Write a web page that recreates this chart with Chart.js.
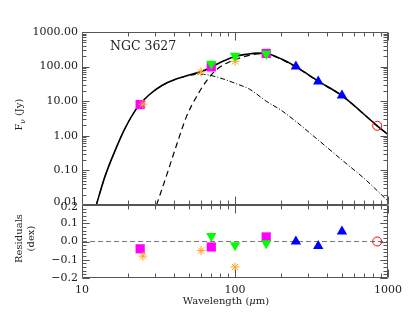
<!DOCTYPE html>
<html>
<head>
<meta charset="utf-8">
<script src="https://cdn.jsdelivr.net/npm/chart.js@4.4.1/dist/chart.umd.min.js"></script>
<style>
html, body { margin: 0; padding: 0; background: #fff; }
canvas { display: block; }
</style>
</head>
<body>
<canvas id="sed" width="409" height="316"></canvas>
<script>
// 模型曲线：总和（实线）
const totalWave = [12.4, 14.1, 16.4, 19.1, 22.9, 27.4, 33.3, 41.2, 50.8, 60.9, 70.7, 84.6, 100, 120, 140, 160, 200, 250, 350, 500, 850, 1000];
const totalFlux = [0.01, 0.065, 0.36, 1.63, 6.4, 15.1, 28.4, 43.8, 58, 73, 100, 147, 196, 228, 245, 240, 168, 100, 38, 14.5, 1.95, 1.1];

// 冷尘成分（虚线）
const coldWave = [30.7, 35.8, 41.5, 48.3, 56.3, 65.5, 76, 93, 120, 140, 160, 200, 250, 350, 500, 850, 1000];
const coldFlux = [0.01, 0.074, 0.54, 3.7, 14, 40, 83, 140, 204, 231, 230, 162, 97, 37.3, 14.3, 1.93, 1.09];

// 暖尘成分（点划线）
const warmWave = [12.4, 14.1, 16.4, 19.1, 22.9, 27.4, 33.3, 41.2, 50.8, 60.9, 70, 80, 100, 125, 160, 200, 250, 320, 400, 500, 700, 1000];
const warmFlux = [0.01, 0.065, 0.36, 1.63, 6.4, 15.1, 28.4, 43, 56, 60, 55, 47, 33, 22, 10, 5.5, 2.6, 1.05, 0.46, 0.2, 0.058, 0.013];

// 观测点：流量与残差
const mipsWave = [24, 70, 160];
const mipsFlux = [8.0, 98, 240];
const mipsResid = [-0.04, -0.03, 0.025];

const pacsWave = [70, 100, 160];
const pacsFlux = [120, 205, 235];
const pacsResid = [0.03, -0.02, -0.01];

const irasWave = [25, 60, 100];
const irasFlux = [8.2, 70, 142];
const irasResid = [-0.08, -0.05, -0.14];

const spireWave = [250, 350, 500];
const spireFlux = [100, 37, 14.5];
const spireResid = [0.0, -0.025, 0.055];

const scubaWave = [850];
const scubaFlux = [1.95];
const scubaResid = [0.0];

// 坐标轴刻度
const xTickLabels = [10, 100, 1000];
const xMinorTicks = [20, 30, 40, 50, 60, 70, 80, 90, 200, 300, 400, 500, 600, 700, 800, 900];
const fluxTickLabels = [0.01, 0.1, 1, 10, 100, 1000];
const residTickLabels = [-0.2, -0.1, 0.0, 0.1, 0.2];

// 文字
const galaxyName = 'NGC 3627';
const fluxTitle = ['F', '\u03bd', ' (Jy)'];
const residTitle = ['Residuals', '(dex)'];
const xTitle = ['Wavelength (', '\u03bc', 'm)'];

const textColor = '#222';
const axisColor = '#555';
const serif = '"DejaVu Serif", serif';

function pts(xs, ys) {
    return xs.map((x, i) => ({ x: x, y: ys[i] }));
}

// 对数副刻度
const fluxMinorTicks = [];
fluxTickLabels.slice(0, -1).forEach(d => {
    for (let k = 2; k <= 9; k++) fluxMinorTicks.push(k * d);
});
const residMinorTicks = [];
for (let i = -10; i <= 10; i++) residMinorTicks.push(i * 0.02);

function curve(xs, ys, dash, width, order) {
    return {
        data: pts(xs, ys), yAxisID: 'y', showLine: true, pointRadius: 0,
        borderColor: '#000', borderWidth: width, borderDash: dash,
        cubicInterpolationMode: 'monotone', fill: false, order: order
    };
}

function markers(xs, ys, axis, style, order) {
    return Object.assign({ data: pts(xs, ys), yAxisID: axis, showLine: false, order: order }, style);
}

const mipsStyle = { pointStyle: 'rect', pointRadius: 6.5, backgroundColor: '#ff00ff', borderColor: '#ff00ff', pointBorderWidth: 0 };
const pacsStyle = { pointStyle: 'triangle', pointRotation: 180, pointRadius: 6, backgroundColor: '#00ff00', borderColor: '#00ff00', pointBorderWidth: 0 };
const irasStyle = { pointStyle: 'star', pointRadius: 4.5, backgroundColor: '#ffa020', borderColor: '#ffa020', pointBorderWidth: 1 };
const spireStyle = { pointStyle: 'triangle', pointRadius: 6, backgroundColor: '#0000ff', borderColor: '#0000ff', pointBorderWidth: 0 };
const scubaStyle = { pointStyle: 'circle', pointRadius: 4.5, backgroundColor: 'rgba(0,0,0,0)', borderColor: '#ff0000', pointBorderWidth: 1 };

// 边框与朝内刻度
const frameTicks = {
    id: 'frameTicks',
    afterDatasetsDraw(chart) {
        const ctx = chart.ctx;
        const xs = chart.scales.x;
        const panels = [
            { s: chart.scales.y, major: fluxTickLabels, minor: fluxMinorTicks },
            { s: chart.scales.yr, major: residTickLabels, minor: residMinorTicks }
        ];
        const left = Math.round(xs.left) + 0.5;
        const right = Math.round(xs.right) - 0.5;
        ctx.save();
        ctx.strokeStyle = axisColor;
        ctx.lineWidth = 1;
        ctx.beginPath();
        panels.forEach(p => {
            const top = Math.round(p.s.top) + 0.5;
            const bot = Math.round(p.s.bottom) - 0.5;
            ctx.rect(left, top, right - left, bot - top);
            xTickLabels.concat(xMinorTicks).forEach(v => {
                const len = xTickLabels.includes(v) ? 8 : 4;
                const px = Math.round(xs.getPixelForValue(v)) + 0.5;
                ctx.moveTo(px, top); ctx.lineTo(px, top + len);
                ctx.moveTo(px, bot); ctx.lineTo(px, bot - len);
            });
            p.major.concat(p.minor).forEach(v => {
                const len = p.major.includes(v) ? 7 : 4;
                const py = Math.round(p.s.getPixelForValue(v)) + 0.5;
                ctx.moveTo(left, py); ctx.lineTo(left + len, py);
                ctx.moveTo(right, py); ctx.lineTo(right - len, py);
            });
        });
        ctx.stroke();
        ctx.restore();
    }
};

// 坐标轴标题与星系名
const axisTitles = {
    id: 'axisTitles',
    afterDraw(chart) {
        const ctx = chart.ctx;
        const ym = chart.scales.y, yr = chart.scales.yr, xs = chart.scales.x;
        const big = '10px ' + serif, small = '7px ' + serif;
        ctx.save();
        ctx.fillStyle = textColor;
        ctx.textBaseline = 'alphabetic';

        ctx.font = '12.5px ' + serif;
        ctx.fillText(galaxyName, xs.left + 28, ym.top + 18);

        // F_nu (Jy)
        ctx.save();
        ctx.translate(18, (ym.top + ym.bottom) / 2 - 4);
        ctx.rotate(-Math.PI / 2);
        ctx.font = big;
        const wF = ctx.measureText(fluxTitle[0]).width;
        const wJy = ctx.measureText(fluxTitle[2]).width;
        ctx.font = small;
        const wNu = ctx.measureText(fluxTitle[1]).width;
        let x = -(wF + wNu + wJy) / 2;
        ctx.font = big;
        ctx.fillText(fluxTitle[0], x, 3.5);
        ctx.font = small;
        ctx.fillText(fluxTitle[1], x + wF, 6.5);
        ctx.font = big;
        ctx.fillText(fluxTitle[2], x + wF + wNu, 3.5);
        ctx.restore();

        // Residuals (dex)
        ctx.save();
        ctx.translate(0, (yr.top + yr.bottom) / 2 - 3);
        ctx.rotate(-Math.PI / 2);
        ctx.font = big;
        ctx.textAlign = 'center';
        ctx.fillText(residTitle[0], 0, 21.5);
        ctx.fillText(residTitle[1], 0, 33.5);
        ctx.restore();

        // Wavelength (um)
        ctx.font = big;
        const w0 = ctx.measureText(xTitle[0]).width;
        const w2 = ctx.measureText(xTitle[2]).width;
        ctx.font = 'italic ' + big;
        const w1 = ctx.measureText(xTitle[1]).width;
        let tx = (xs.left + xs.right) / 2 - 9 - (w0 + w1 + w2) / 2;
        const ty = 304;
        ctx.font = big;
        ctx.fillText(xTitle[0], tx, ty);
        ctx.font = 'italic ' + big;
        ctx.fillText(xTitle[1], tx + w0, ty);
        ctx.font = big;
        ctx.fillText(xTitle[2], tx + w0 + w1, ty);
        ctx.restore();
    }
};

const tickFont = { family: serif, size: 11 };

// 两个面板交界处的标签稍微错开
function fluxLabel(v) {
    return v === fluxTickLabels[0] ? [v.toFixed(2), ''] : v.toFixed(2);
}
function residLabel(v) {
    const s = v.toFixed(1).replace('-', '\u2212');
    return v === residTickLabels[residTickLabels.length - 1] ? ['', s] : s;
}
function edgeFont(edgeValue, lh) {
    return ctx => ({ family: serif, size: 11, lineHeight: ctx.tick && ctx.tick.value === edgeValue ? lh : 1.2 });
}

new Chart(document.getElementById('sed'), {
    type: 'scatter',
    data: {
        datasets: [
            curve(totalWave, totalFlux, [], 1.6, 20),
            curve(coldWave, coldFlux, [6, 4], 1.2, 21),
            curve(warmWave, warmFlux, [5, 2, 1, 2], 1, 22),
            {
                data: pts([10, 1000], [0, 0]), yAxisID: 'yr', showLine: true, pointRadius: 0,
                borderColor: '#777', borderWidth: 1, borderDash: [5, 3], order: 23
            },
            markers(mipsWave, mipsFlux, 'y', mipsStyle, 5),
            markers(irasWave, irasFlux, 'y', irasStyle, 4),
            markers(pacsWave, pacsFlux, 'y', pacsStyle, 3),
            markers(spireWave, spireFlux, 'y', spireStyle, 2),
            markers(scubaWave, scubaFlux, 'y', scubaStyle, 1),
            markers(mipsWave, mipsResid, 'yr', mipsStyle, 5),
            markers(irasWave, irasResid, 'yr', irasStyle, 4),
            markers(pacsWave, pacsResid, 'yr', pacsStyle, 3),
            markers(spireWave, spireResid, 'yr', spireStyle, 2),
            markers(scubaWave, scubaResid, 'yr', scubaStyle, 1)
        ]
    },
    options: {
        responsive: false,
        animation: false,
        layout: { padding: { top: 32, right: 21, left: 0, bottom: 0 } },
        plugins: { legend: { display: false }, tooltip: { enabled: false } },
        scales: {
            x: {
                type: 'logarithmic', min: 10, max: 1000,
                grid: { display: false, drawTicks: false },
                border: { display: false },
                afterBuildTicks: s => { s.ticks = xTickLabels.map(v => ({ value: v })); },
                afterFit: s => { s.height = 38; },
                ticks: { color: textColor, font: tickFont, padding: 6, maxRotation: 0, autoSkip: false, callback: v => String(v) }
            },
            y: {
                type: 'logarithmic', position: 'left', stack: 'sed', stackWeight: 173, weight: 1,
                min: 0.01, max: 1000,
                grid: { display: false, drawTicks: false },
                border: { display: false },
                afterBuildTicks: s => { s.ticks = fluxTickLabels.map(v => ({ value: v })); },
                afterFit: s => { s.width = 82; },
                ticks: { color: textColor, font: edgeFont(fluxTickLabels[0], 0.55), padding: 4, autoSkip: false, callback: fluxLabel }
            },
            yr: {
                type: 'linear', position: 'left', stack: 'sed', stackWeight: 73, weight: 0,
                min: -0.2, max: 0.2,
                grid: { display: false, drawTicks: false },
                border: { display: false },
                afterBuildTicks: s => { s.ticks = residTickLabels.map(v => ({ value: v })); },
                afterFit: s => { s.width = 82; },
                ticks: { color: textColor, font: edgeFont(residTickLabels[residTickLabels.length - 1], 0.4), padding: 4, autoSkip: false, callback: residLabel }
            }
        }
    },
    plugins: [frameTicks, axisTitles]
});
</script>
</body>
</html>
